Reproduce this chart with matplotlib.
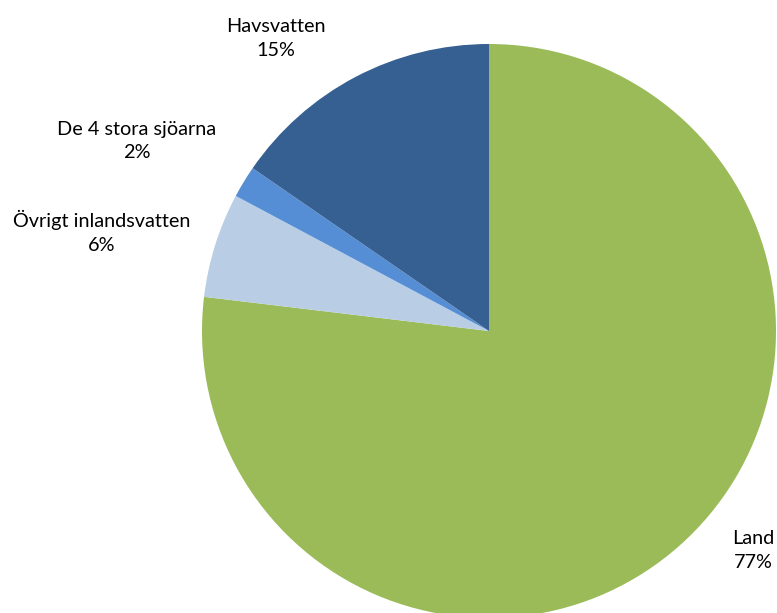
import matplotlib
matplotlib.use("Agg")
import matplotlib.pyplot as plt

categories = ["Land", "Övrigt inlandsvatten", "De 4 stora sjöarna", "Havsvatten"]
values = [76.9, 5.9, 1.8, 15.4]
pct_labels = ["77%", "6%", "2%", "15%"]
colors = ["#9BBB59", "#B9CDE5", "#558ED5", "#376092"]

W, H = 777, 613
fig = plt.figure(figsize=(W / 100, H / 100), dpi=100)
ax = fig.add_axes([0, 0, 1, 1])

ax.pie(values, colors=colors, startangle=90, counterclock=False,
       center=(489, H - 331), radius=287, frame=True,
       wedgeprops=dict(linewidth=0))
ax.set_xlim(0, W)
ax.set_ylim(0, H)
ax.set_aspect("equal")
ax.axis("off")

label_pos = [(753, 551), (102, 232), (137, 141), (276, 39)]
for cat, pl, (x, y) in zip(categories, pct_labels, label_pos):
    ax.text(x, H - y, f"{cat}\n{pl}", ha="center", va="center",
            fontsize=14.3, family=["Lato", "DejaVu Sans"], color="#000000",
            linespacing=1.5)

fig.savefig("out.png", dpi=100)
